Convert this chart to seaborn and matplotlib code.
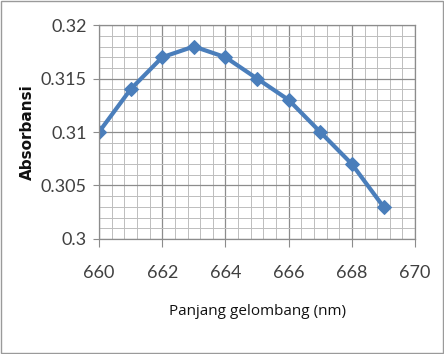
import matplotlib
matplotlib.use('Agg')
import matplotlib.pyplot as plt
import seaborn as sns
import pandas as pd
from matplotlib.ticker import MultipleLocator, FuncFormatter

# Data
wavelength = [660, 661, 662, 663, 664, 665, 666, 667, 668, 669]
absorbance = [0.310, 0.314, 0.317, 0.318, 0.317, 0.315, 0.313, 0.310, 0.307, 0.303]

df = pd.DataFrame({'wavelength': wavelength, 'absorbance': absorbance})

sns.set_style('white')
plt.rcParams['font.family'] = ['Lato', 'DejaVu Sans']

fig = plt.figure(figsize=(4.44, 3.54), dpi=100)
ax = fig.add_axes([0.223, 0.325, 0.712, 0.604])

sns.lineplot(data=df, x='wavelength', y='absorbance', ax=ax, color='#4A7EBB',
             linewidth=3, marker='D', markersize=7.5, markeredgecolor='#4A7EBB')

ax.set_xlim(660, 670)
ax.set_ylim(0.3, 0.32)
ax.xaxis.set_major_locator(MultipleLocator(2))
ax.xaxis.set_minor_locator(MultipleLocator(0.4))
ax.yaxis.set_major_locator(MultipleLocator(0.005))
ax.yaxis.set_minor_locator(MultipleLocator(0.001))
fmt = FuncFormatter(lambda v, p: '%g' % round(v, 4))
ax.xaxis.set_major_formatter(fmt)
ax.yaxis.set_major_formatter(fmt)

ax.grid(which='major', color='#8c8c8c', linewidth=0.9)
ax.grid(which='minor', color='#bdbdbd', linewidth=0.7)
ax.set_axisbelow(True)
for s in ax.spines.values():
    s.set_color('#8c8c8c')
    s.set_linewidth(0.9)

ax.tick_params(axis='both', which='major', labelsize=13, colors='#8c8c8c',
               labelcolor='#404040', length=6, direction='out')
ax.tick_params(axis='x', which='major', pad=13, bottom=True)
ax.tick_params(axis='y', which='major', pad=5, left=True, length=4)

ax.set_xlabel('Panjang gelombang (nm)', fontsize=11, labelpad=16, color='#111111',
              family=['Open Sans', 'DejaVu Sans'])
ax.set_ylabel('Absorbansi', fontsize=11, fontweight='bold', labelpad=4, color='#111111',
              family=['DejaVu Sans'])

border = plt.Rectangle((0.002, 0.003), 0.995, 0.993, transform=fig.transFigure,
                       fill=False, edgecolor='#9a9a9a', linewidth=1)
fig.patches.append(border)

fig.savefig('out.png', dpi=100)
